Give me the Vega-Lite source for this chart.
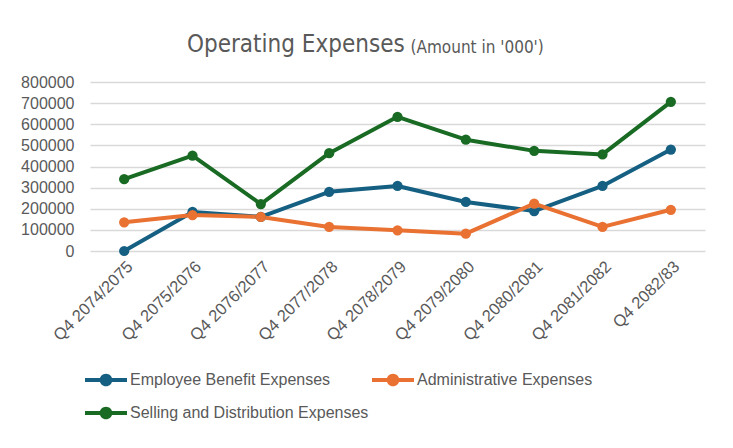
{
  "$schema": "https://vega.github.io/schema/vega-lite/v6.json",
  "autosize": {"type": "none"},
  "width": 615,
  "height": 169,
  "padding": {"left": 90, "top": 82, "right": 28, "bottom": 197},
  "background": "white",
  "title": {
    "text": "Operating Expenses",
    "anchor": "start",
    "frame": "group",
    "dx": 97,
    "dy": 38,
    "offset": 0,
    "baseline": "alphabetic",
    "font": "'DejaVu Sans Condensed', 'Liberation Sans'",
    "fontSize": 24,
    "fontWeight": "normal",
    "color": "#595959"
  },
  "data": {
    "values": [
      {"period": "Q4 2074/2075", "series": "Employee Benefit Expenses", "value": 0},
      {"period": "Q4 2075/2076", "series": "Employee Benefit Expenses", "value": 185000},
      {"period": "Q4 2076/2077", "series": "Employee Benefit Expenses", "value": 162000},
      {"period": "Q4 2077/2078", "series": "Employee Benefit Expenses", "value": 280000},
      {"period": "Q4 2078/2079", "series": "Employee Benefit Expenses", "value": 308000},
      {"period": "Q4 2079/2080", "series": "Employee Benefit Expenses", "value": 232000},
      {"period": "Q4 2080/2081", "series": "Employee Benefit Expenses", "value": 189000},
      {"period": "Q4 2081/2082", "series": "Employee Benefit Expenses", "value": 308000},
      {"period": "Q4 2082/83", "series": "Employee Benefit Expenses", "value": 480000},
      {"period": "Q4 2074/2075", "series": "Administrative Expenses", "value": 136000},
      {"period": "Q4 2075/2076", "series": "Administrative Expenses", "value": 170000},
      {"period": "Q4 2076/2077", "series": "Administrative Expenses", "value": 161000},
      {"period": "Q4 2077/2078", "series": "Administrative Expenses", "value": 114000},
      {"period": "Q4 2078/2079", "series": "Administrative Expenses", "value": 98000},
      {"period": "Q4 2079/2080", "series": "Administrative Expenses", "value": 82000},
      {"period": "Q4 2080/2081", "series": "Administrative Expenses", "value": 224000},
      {"period": "Q4 2081/2082", "series": "Administrative Expenses", "value": 114000},
      {"period": "Q4 2082/83", "series": "Administrative Expenses", "value": 195000},
      {"period": "Q4 2074/2075", "series": "Selling and Distribution Expenses", "value": 340000},
      {"period": "Q4 2075/2076", "series": "Selling and Distribution Expenses", "value": 452000},
      {"period": "Q4 2076/2077", "series": "Selling and Distribution Expenses", "value": 222000},
      {"period": "Q4 2077/2078", "series": "Selling and Distribution Expenses", "value": 463000},
      {"period": "Q4 2078/2079", "series": "Selling and Distribution Expenses", "value": 635000},
      {"period": "Q4 2079/2080", "series": "Selling and Distribution Expenses", "value": 527000},
      {"period": "Q4 2080/2081", "series": "Selling and Distribution Expenses", "value": 474000},
      {"period": "Q4 2081/2082", "series": "Selling and Distribution Expenses", "value": 457000},
      {"period": "Q4 2082/83", "series": "Selling and Distribution Expenses", "value": 706000}
    ]
  },
  "encoding": {
    "x": {
      "field": "period",
      "type": "nominal",
      "sort": null,
      "scale": {"type": "point", "padding": 0.5},
      "axis": {
        "title": null,
        "labelAngle": -45,
        "labelFont": "Liberation Sans",
        "labelFontSize": 16.5,
        "labelColor": "#595959",
        "labelPadding": 7,
        "ticks": false,
        "tickSize": 0,
        "domain": false,
        "grid": false
      }
    },
    "y": {
      "field": "value",
      "type": "quantitative",
      "scale": {"domain": [0, 800000], "nice": false},
      "axis": {
        "title": "(Amount in '000')",
        "titleAngle": 0,
        "titleX": 320,
        "titleY": -30,
        "titleAlign": "left",
        "titleBaseline": "alphabetic",
        "titleFont": "'DejaVu Sans Condensed', 'Liberation Sans'",
        "titleFontSize": 17,
        "titleFontWeight": "normal",
        "titleColor": "#595959",
        "values": [0, 100000, 200000, 300000, 400000, 500000, 600000, 700000, 800000],
        "format": "d",
        "labelFont": "Liberation Sans",
        "labelFontSize": 16,
        "labelColor": "#595959",
        "labelPadding": 16,
        "ticks": false,
        "tickSize": 0,
        "domain": false,
        "grid": true,
        "gridColor": "#D9D9D9",
        "gridWidth": 1.5
      }
    },
    "color": {
      "field": "series",
      "type": "nominal",
      "scale": {
        "domain": ["Employee Benefit Expenses", "Administrative Expenses", "Selling and Distribution Expenses"],
        "range": ["#156082", "#E97132", "#196B24"]
      },
      "legend": {
        "title": null,
        "orient": "none",
        "legendX": -5,
        "legendY": 277,
        "direction": "horizontal",
        "columns": 2,
        "symbolType": "M-1,-0.1L1,-0.1L1,0.1L-1,0.1ZM-0.3,0A0.3,0.3 0 1,1 0.3,0A0.3,0.3 0 1,1 -0.3,0Z",
        "symbolSize": 1764,
        "symbolStrokeWidth": 0,
        "symbolOpacity": 1,
        "labelFont": "Liberation Sans",
        "labelFontSize": 16,
        "labelColor": "#595959",
        "labelOffset": 3,
        "labelLimit": 400,
        "columnPadding": 3,
        "rowPadding": 4,
        "padding": 0,
        "encode": {
          "symbols": {
            "update": {
              "fill": {"scale": "color", "field": "value"},
              "stroke": {"value": "transparent"},
              "opacity": {"value": 1}
            }
          }
        }
      }
    }
  },
  "layer": [
    {
      "mark": {"type": "line", "strokeWidth": 4, "strokeJoin": "round", "strokeCap": "round"}
    },
    {
      "mark": {"type": "point", "filled": true, "size": 105, "opacity": 1, "shape": "circle"}
    }
  ],
  "config": {
    "view": {"stroke": null}
  }
}
